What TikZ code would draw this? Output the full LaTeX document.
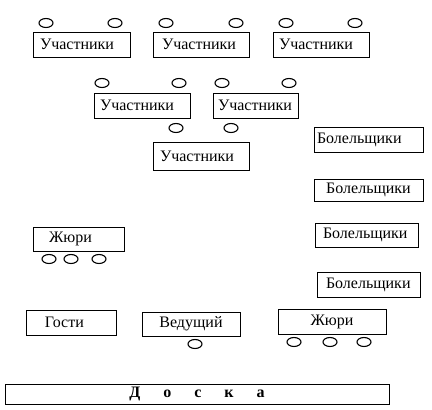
\documentclass[tikz,border=0pt]{standalone}
\usepackage{fontspec}
\setmainfont{Liberation Serif}

\begin{document}
\begin{tikzpicture}[
    x=1pt, y=-1pt,
    box/.style={draw, line width=0.8pt, inner ysep=0pt, minimum height=25pt,
        font=\fontsize{16}{19}\selectfont},
    inset/.style 2 args={inner xsep=#1pt, text width=#2pt, align=left},
    seat/.style={line width=1.1pt},
]
\useasboundingbox (0,0) rectangle (432,410);

% === Participants, top row ===
\node[box, inset={7}{83}] (part1) at (81.5,44.5) {Участники};
\node[box, inset={9}{78}] (part2) at (201,44.5) {Участники};
\node[box, inset={6}{84}] (part3) at (321,44.5) {Участники};
\draw[seat] (46,23) ellipse (7pt and 4.5pt);
\draw[seat] (115,23) ellipse (7pt and 4.5pt);
\draw[seat] (166,23) ellipse (7pt and 4.5pt);
\draw[seat] (236,23) ellipse (7pt and 4.5pt);
\draw[seat] (286,23) ellipse (7pt and 4.5pt);
\draw[seat] (355,23) ellipse (7pt and 4.5pt);

% === Participants, middle ===
\node[box, inset={6}{84}] (part4) at (142,105.5) {Участники};
\node[box, inset={5}{75}] (part5) at (255.5,105.5) {Участники};
\draw[seat] (102,83) ellipse (7pt and 4.5pt);
\draw[seat] (179,83) ellipse (7pt and 4.5pt);
\draw[seat] (222,83) ellipse (7pt and 4.5pt);
\draw[seat] (289,83) ellipse (7pt and 4.5pt);
\draw[seat] (176,128) ellipse (7pt and 4.5pt);
\draw[seat] (231,128) ellipse (7pt and 4.5pt);
\node[box, inset={7}{82}, minimum height=28pt] (part6) at (201,156) {Участники};

% === Fans, right column ===
\node[box, inset={3}{103}] (fans1) at (368.5,139.5) {Болельщики};
\node[box, minimum width=109pt, minimum height=22pt] (fans2) at (368.5,190) {Болельщики};
\node[box, inset={8}{87}, minimum height=24pt] (fans3) at (366.5,235) {Болельщики};
\node[box, inset={9}{85}] (fans4) at (368.5,284.5) {Болельщики};

% === Jury (left) ===
\node[box, inset={16}{59}, minimum height=24pt] (jury1) at (78.5,239) {Жюри};
\draw[seat] (49,259) ellipse (7pt and 4.5pt);
\draw[seat] (71,259) ellipse (7pt and 4.5pt);
\draw[seat] (99,259) ellipse (7pt and 4.5pt);

% === Bottom row: guests, host, jury ===
\node[box, inset={19}{52}] (guests) at (71,322.5) {Гости};
\node[box, minimum width=98pt, minimum height=24pt] (host) at (191,324) {Ведущий};
\draw[seat] (195,344) ellipse (7pt and 4.5pt);
\node[box, minimum width=108pt] (jury2) at (332,321.5) {Жюри};
\draw[seat] (294,342) ellipse (7pt and 4.5pt);
\draw[seat] (330,342) ellipse (7pt and 4.5pt);
\draw[seat] (364,342) ellipse (7pt and 4.5pt);

% === Board ===
\node[box, minimum width=384pt, minimum height=20pt,
    font=\fontsize{16}{19}\selectfont\bfseries] (board) at (197,394)
    {Д\hspace{23pt}о\hspace{23pt}с\hspace{23pt}к\hspace{23pt}а};

\end{tikzpicture}
\end{document}
